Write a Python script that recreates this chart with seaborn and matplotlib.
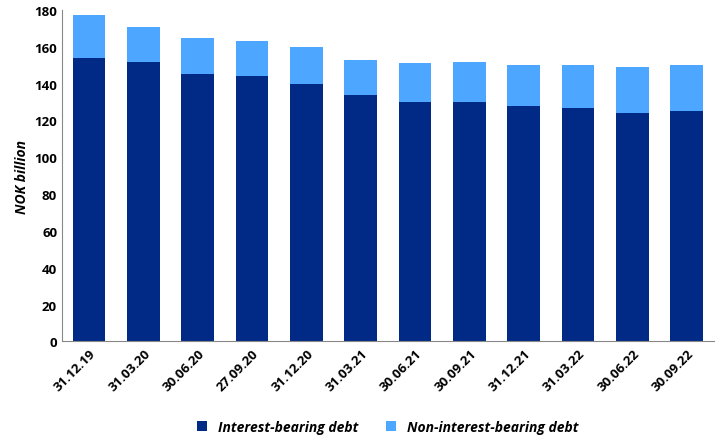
import matplotlib
matplotlib.use("Agg")
import matplotlib.pyplot as plt
import seaborn as sns
import pandas as pd

dates = ['31.12.19', '31.03.20', '30.06.20', '27.09.20', '31.12.20', '31.03.21',
         '30.06.21', '30.09.21', '31.12.21', '31.03.22', '30.06.22', '30.09.22']
interest_bearing = [154, 152, 145, 144, 140, 134, 130, 130, 128, 127, 124, 125]
total_debt = [177, 171, 165, 163, 160, 153, 151, 152, 150, 150, 149, 150]

df = pd.DataFrame({'Date': dates, 'Interest': interest_bearing, 'Total': total_debt})

plt.rcParams['font.family'] = 'Open Sans'
fig, ax = plt.subplots(figsize=(7.21, 4.39), dpi=100)
sns.barplot(data=df, x='Date', y='Total', color='#4da6ff', saturation=1, width=0.6,
            ax=ax, label='Non-interest-bearing debt')
sns.barplot(data=df, x='Date', y='Interest', color='#002a85', saturation=1, width=0.6,
            ax=ax, label='Interest-bearing debt')

ax.set_ylim(0, 180)
ax.set_yticks(range(0, 181, 20))
ax.set_xlabel('')
ax.set_ylabel('NOK billion', fontsize=10, fontweight='bold', fontstyle='italic')
ax.tick_params(axis='both', labelsize=9.5, length=0)
for lbl in ax.get_yticklabels():
    lbl.set_fontweight('bold')
for lbl in ax.get_xticklabels():
    lbl.set_fontweight('bold')
    lbl.set_rotation(45)
    lbl.set_ha('right')
    lbl.set_rotation_mode('anchor')
for s in ['top', 'right']:
    ax.spines[s].set_visible(False)
ax.spines['left'].set_color('#888888')
ax.spines['bottom'].set_color('#888888')

handles, labels = ax.get_legend_handles_labels()
leg = ax.legend(handles[::-1], labels[::-1], loc='upper center', bbox_to_anchor=(0.5, -0.2),
                ncol=2, frameon=False, handlelength=0.7, handleheight=0.7,
                prop={'weight': 'bold', 'style': 'italic', 'size': 10})

fig.subplots_adjust(left=0.086, right=0.99, top=0.975, bottom=0.22)
fig.savefig('out.png', dpi=100)
